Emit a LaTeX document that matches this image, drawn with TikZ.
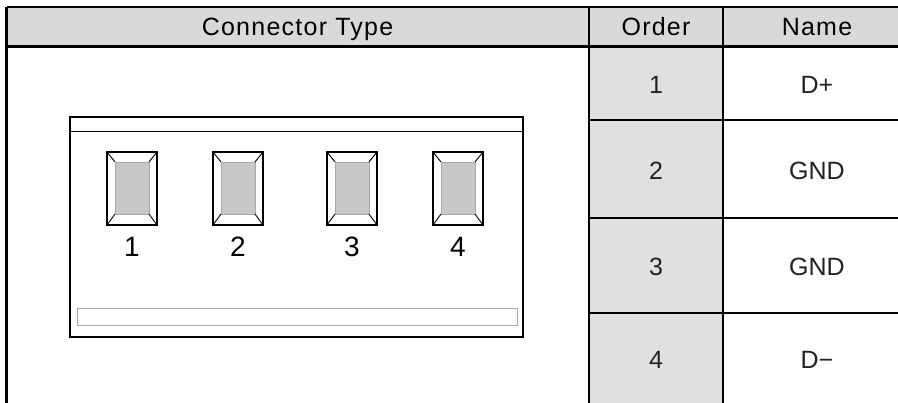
\documentclass[tikz,border=0pt]{standalone}
\usepackage{fontspec}
\setmainfont{Liberation Sans}
\newfontfamily\hdrfont[LetterSpace=5]{Liberation Sans}
\newfontfamily\bodyfont{Liberation Sans}
\definecolor{hdrgray}{HTML}{D9D9D9}
\definecolor{colgray}{HTML}{E0E0E0}
\definecolor{pingray}{HTML}{C8C8C8}
\definecolor{edgegray}{HTML}{A8A8A8}
\definecolor{txtgray}{HTML}{222222}
\tikzset{
  tline/.style={line width=2.2pt, black},
  hdrtext/.style={font=\hdrfont\fontsize{25}{28}\selectfont, text=black, inner sep=0pt, anchor=base},
  celltext/.style={font=\bodyfont\fontsize{25}{28}\selectfont, text=txtgray, inner sep=0pt, anchor=base},
  pinlabel/.style={font=\fontsize{28}{32}\selectfont, text=black, inner sep=0pt, anchor=base},
  houseline/.style={line width=2pt, black},
}
\newcommand{\pinbox}[1]{%
  \begin{scope}[shift={(#1,0)}]
    \fill[white] (0,152) rectangle (50,225);
    \fill[pingray] (8,162) rectangle (42,214);
    \draw[edgegray, line width=0.8pt] (8,162) rectangle (42,214);
    \draw[black, line width=0.9pt] (0,152) -- (8,162) (50,152) -- (42,162)
                                     (0,225) -- (8,214) (50,225) -- (42,214);
    \draw[houseline, line width=2.2pt] (0,152) rectangle (50,225);
  \end{scope}}
\begin{document}
\begin{tikzpicture}[x=1pt, y=-1pt]
\useasboundingbox (0,0) rectangle (898,403);
\clip (0,0) rectangle (898,403);
% fills
\fill[hdrgray] (6.5,7) rectangle (911,46.5);
\fill[colgray] (589,46.5) rectangle (723,410);
% table lines
\draw[tline] (6.5,7) -- (911,7);
\draw[tline] (6.5,46.5) -- (911,46.5);
\draw[tline] (6.5,7) -- (6.5,410);
\draw[tline] (589,7) -- (589,410);
\draw[tline] (723,7) -- (723,410);
\draw[tline] (589,120.3) -- (911,120.3);
\draw[tline] (589,218) -- (911,218);
\draw[tline] (589,312.7) -- (911,312.7);
% header texts
\node[hdrtext] (hconn) at (297.5,35.5) {Connector Type};
\node[hdrtext] (horder) at (656,35.5) {Order};
\node[hdrtext] (hname) at (817,35.5) {Name};
% cells
\node[celltext] (o1) at (656,94) {1};
\node[celltext] (o2) at (656,180) {2};
\node[celltext] (o3) at (656,275.5) {3};
\node[celltext] (o4) at (656,369) {4};
\node[celltext] (n1) at (817,94) {D+};
\node[celltext] (n2) at (817,180) {GND};
\node[celltext] (n3) at (817,275.5) {GND};
\node[celltext] (n4) at (817,369) {D\symbol{"2212}};
% connector housing
\draw[houseline] (70,117.5) rectangle (523,337.5);
\draw[black, line width=1.2pt] (70,131.5) -- (523,131.5);
\draw[edgegray, line width=1pt] (77,308.5) rectangle (517,325.5);
% pins
\pinbox{107}
\pinbox{213}
\pinbox{327}
\pinbox{433}
\node[pinlabel] (p1) at (132,257) {1};
\node[pinlabel] (p2) at (238,257) {2};
\node[pinlabel] (p3) at (352,257) {3};
\node[pinlabel] (p4) at (458,257) {4};
\end{tikzpicture}
\end{document}
